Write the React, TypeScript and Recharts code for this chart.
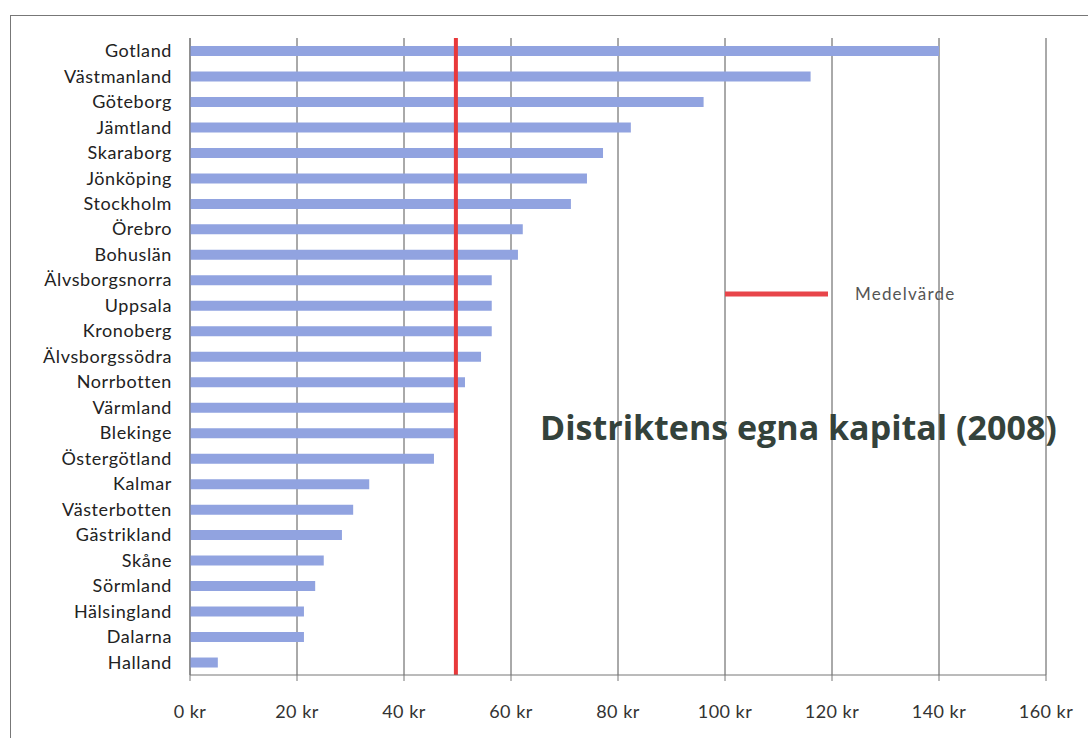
import { BarChart, Bar, XAxis, YAxis, CartesianGrid, ReferenceLine, Legend } from "recharts";

const districts = [
  "Gotland", "Västmanland", "Göteborg", "Jämtland", "Skaraborg", "Jönköping", "Stockholm",
  "Örebro", "Bohuslän", "Älvsborgsnorra", "Uppsala", "Kronoberg", "Älvsborgssödra",
  "Norrbotten", "Värmland", "Blekinge", "Östergötland", "Kalmar", "Västerbotten",
  "Gästrikland", "Skåne", "Sörmland", "Hälsingland", "Dalarna", "Halland",
];
const capital = [
  140, 116, 96, 82.4, 77.2, 74.2, 71.2, 62.2, 61.3, 56.4, 56.4, 56.4, 54.4,
  51.4, 49.7, 49.7, 45.6, 33.5, 30.5, 28.4, 25, 23.4, 21.3, 21.3, 5.2,
];
const meanValue = 49.7;
const xTicks = [0, 20, 40, 60, 80, 100, 120, 140, 160];

const chartData = districts.map((name, i) => ({ name, capital: capital[i] }));

const font = "Lato, 'Open Sans', sans-serif";

const MeanLegend = () => (
  <div style={{ display: "flex", alignItems: "center", fontFamily: font, fontSize: 17, letterSpacing: 1.2, color: "#555" }}>
    <svg width={104} height={8}>
      <line x1={0} y1={4} x2={103} y2={4} stroke="#e8454a" strokeWidth={5} />
    </svg>
    <span style={{ marginLeft: 26 }}>Medelvärde</span>
  </div>
);

const App = () => {
  return (
    <div style={{ position: "absolute", left: 0, top: 0, width: 1088, height: 738, background: "#fff" }}>
      <div
        style={{
          position: "absolute",
          left: 10,
          top: 15,
          width: 1090,
          height: 740,
          borderLeft: "1px solid #777",
          borderTop: "1px solid #777",
        }}
      />
      <BarChart
        width={1088}
        height={738}
        data={chartData}
        layout="vertical"
        margin={{ top: 38, right: 42, left: 0, bottom: 23 }}
        barCategoryGap={0}
      >
        <CartesianGrid horizontal={false} vertical={true} stroke="#555" strokeWidth={1} />
        <XAxis
          type="number"
          domain={[0, 160]}
          ticks={xTicks}
          tickFormatter={(v) => `${v} kr`}
          height={40}
          tickSize={6}
          tickMargin={24}
          stroke="#777"
          tick={{ fontSize: 18, fill: "#333", fontFamily: font, letterSpacing: 0.5 }}
        />
        <YAxis
          type="category"
          dataKey="name"
          width={190}
          interval={0}
          tickSize={6}
          tickMargin={12}
          tickLine={false}
          stroke="#777"
          tick={{ fontSize: 18, fill: "#222", fontFamily: font, letterSpacing: 0.6 }}
        />
        <Bar dataKey="capital" fill="#91a3e0" barSize={10} isAnimationActive={false} />
        <ReferenceLine x={meanValue} stroke="#e8393b" strokeWidth={4} />
        <Legend
          layout="horizontal"
          verticalAlign="middle"
          align="center"
          wrapperStyle={{ left: 725, top: 283, width: 320 }}
          content={() => <MeanLegend />}
        />
      </BarChart>
      <div
        style={{
          position: "absolute",
          left: 540,
          top: 404,
          fontFamily: "'Open Sans', sans-serif",
          fontWeight: 700,
          fontSize: 34,
          color: "#34423b",
          whiteSpace: "nowrap",
        }}
      >
        Distriktens egna kapital (2008)
      </div>
    </div>
  );
};

export default App;
